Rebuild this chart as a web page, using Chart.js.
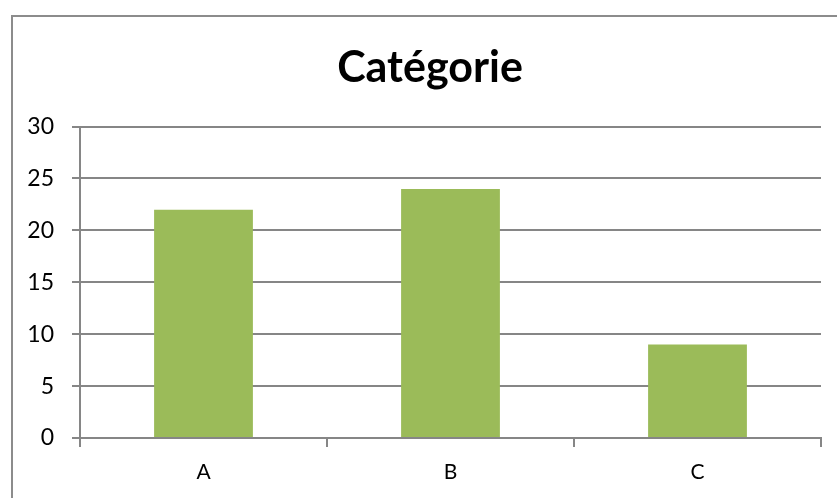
<!DOCTYPE html>
<html>

<head>
    <meta charset="utf-8">
    <title>Catégorie</title>
    <script src="https://cdn.jsdelivr.net/npm/chart.js@4/dist/chart.umd.min.js"></script>
    <style>
        body { margin: 0; background: #fff; overflow: hidden; }
        #frame { position: absolute; left: 11px; top: 15px; width: 900px; height: 600px; border: 2px solid #8c8c8c; }
        #wrap { position: absolute; left: 0; top: 0; width: 860px; height: 498px; }
    </style>
</head>

<body>
    <div id="frame"></div>
    <div id="wrap"><canvas id="c"></canvas></div>
    <script>
        // data
        const categories = ['A', 'B', 'C']
        const values = [22, 24, 9]
        const yTicks = [0, 5, 10, 15, 20, 25, 30]
        const title = 'Catégorie'

        const axisGray = '#868686'
        const font = 'Lato, "Open Sans", sans-serif'

        // the chart frame runs past the right edge of the window, so the canvas does too;
        // an empty right scale keeps the plot off that hidden strip while the title stays centred on the frame
        const config = {
            type: 'bar',
            data: {
                labels: categories,
                datasets: [{
                    label: title,
                    data: values,
                    backgroundColor: '#9bbb59',
                    borderWidth: 0,
                    barPercentage: 0.4,
                    categoryPercentage: 1
                }]
            },
            options: {
                responsive: false,
                animation: false,
                layout: { padding: 0 },
                plugins: {
                    legend: { display: false },
                    tooltip: { enabled: false },
                    title: {
                        display: true,
                        text: title,
                        color: '#000',
                        font: { family: font, size: 43, weight: 'bold', lineHeight: 1.2 },
                        padding: { top: 42, bottom: 33 }
                    }
                },
                scales: {
                    x: {
                        offset: true,
                        grid: { display: true, drawOnChartArea: false, drawTicks: true, tickLength: 9, color: axisGray, lineWidth: 2, offset: true },
                        border: { color: axisGray, width: 2 },
                        ticks: { color: '#000', font: { family: font, size: 21 }, padding: 13 },
                        afterFit: (s) => { s.height = 498 - 438 }
                    },
                    y: {
                        min: 0,
                        max: 30,
                        afterBuildTicks: (s) => { s.ticks = yTicks.map((v) => ({ value: v })) },
                        grid: { color: axisGray, lineWidth: 2, tickLength: 8 },
                        border: { color: axisGray, width: 2 },
                        ticks: { color: '#000', font: { family: font, size: 23 }, padding: 18 },
                        afterFit: (s) => { s.width = 80 }
                    },
                    spacer: {
                        position: 'right',
                        display: true,
                        min: 0,
                        max: 30,
                        grid: { display: false, drawTicks: false },
                        border: { display: false },
                        ticks: { display: false },
                        afterFit: (s) => { s.width = 860 - 821 }
                    }
                }
            }
        }

        const canvas = document.getElementById('c')
        canvas.width = 860
        canvas.height = 498
        new Chart(canvas, config)
    </script>
</body>

</html>
